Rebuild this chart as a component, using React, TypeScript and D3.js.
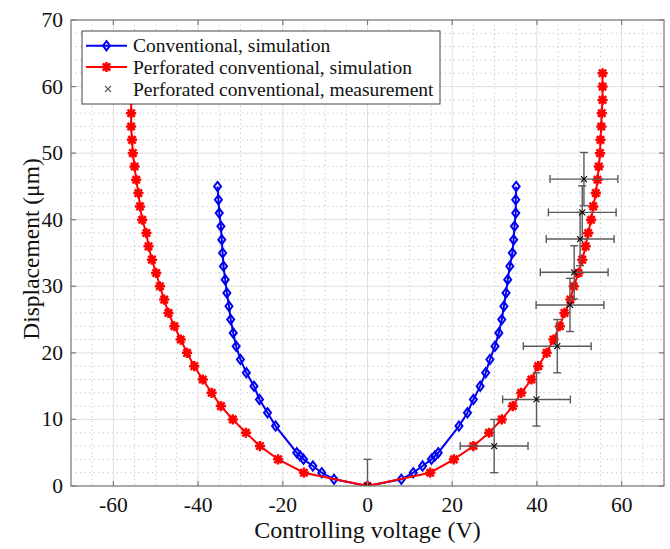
import React from "react";
import * as d3 from "d3";

// ---- data ----
const blueVoltage = [
  -35.4, -35.2, -35.0, -34.6, -34.4, -34.2, -34.0, -33.6, -33.2, -32.7, -32.3, -31.7, -31.0, -30.0, -28.6, -26.8, -25.5, -23.6, -21.7,
  -16.7, -15.9, -15.1, -12.9, -10.8, -7.9,
  0,
  8.0, 10.8, 13.0, 15.1, 15.9, 16.7,
  21.6, 23.6, 25.0, 26.6, 27.9, 28.9, 30.1, 31.0, 31.7, 32.2, 32.7, 33.1, 33.6, 34.2, 34.5, 34.7, 35.0, 35.0, 35.1,
];
const blueDisp = [
  45, 43, 41, 39, 37, 35, 33, 31, 29, 27, 25, 23, 21, 19, 17, 15, 13, 11, 9,
  5, 4.5, 4, 3, 2, 1,
  0,
  1, 2, 3, 4, 4.5, 5,
  9, 11, 13, 15, 17, 19, 21, 23, 25, 27, 29, 31, 33, 35, 37, 39, 41, 43, 45,
];

const redVoltage = [
  -55.8, -55.8, -55.8, -55.8, -55.8, -55.6, -55.4, -55.0, -54.6, -54.1, -53.7, -53.2, -52.2, -51.7, -50.9, -49.9,
  -49.0, -48.0, -47.0, -45.6, -44.1, -42.6, -40.9, -38.9, -36.8, -34.6, -31.8, -28.7, -25.4, -21.1, -15.0,
  0,
  14.8, 20.4, 25.0, 28.7, 31.7, 34.3, 36.3, 38.7, 40.3, 42.3, 43.9, 45.4, 46.5, 47.9, 48.7, 49.8,
  50.7, 51.5, 52.1, 52.8, 53.3, 53.9, 54.3, 54.6, 54.9, 55.0, 55.2, 55.3, 55.5, 55.5, 55.5,
];
const redDisp = [
  62, 60, 58, 56, 54, 52, 50, 48, 46, 44, 42, 40, 38, 36, 34, 32, 30, 28, 26, 24, 22, 20, 18, 16, 14, 12, 10, 8, 6, 4, 2,
  0,
  2, 4, 6, 8, 10, 12, 14, 16, 18, 20, 22, 24, 26, 28, 30, 32, 34, 36, 38, 40, 42, 44, 46, 48, 50, 52, 54, 56, 58, 60, 62,
];

const measVoltage = [0, 29.9, 39.9, 44.8, 47.8, 48.8, 50.2, 50.7, 51.1];
const measDisp = [0, 6.0, 13.0, 21.0, 27.2, 32.1, 37.1, 41.1, 46.1];
const measVoltErr = [0, 8, 8, 8, 8, 8, 8, 8, 8];
const measDispErr = [4, 4, 4, 4, 4, 4, 4, 4, 4];

const xTicks = [-60, -40, -20, 0, 20, 40, 60];
const yTicks = [0, 10, 20, 30, 40, 50, 60, 70];

const legendLabels = [
  "Conventional, simulation",
  "Perforated conventional, simulation",
  "Perforated conventional, measurement",
];

// ---- layout ----
const W = 670;
const H = 549;
const L = 71, R = 664, T = 20, B = 486;
const FONT = "'Liberation Serif', 'Times New Roman', serif";
const BLUE = "#0000f0";
const RED = "#ff0000";
const ERR = "#5a5a5a";
const AXIS = "#7a7a7a";

function Diamond({ cx, cy }: { cx: number; cy: number }) {
  const w = 3.5, h = 4.6;
  return (
    <path
      d={`M${cx},${cy - h}L${cx + w},${cy}L${cx},${cy + h}L${cx - w},${cy}Z`}
      fill="none"
      stroke={BLUE}
      strokeWidth={2}
    />
  );
}

function Star({ cx, cy }: { cx: number; cy: number }) {
  const r = 5.1;
  const d = r * 0.72;
  return (
    <path
      d={`M${cx},${cy - r}L${cx},${cy + r}M${cx - r},${cy}L${cx + r},${cy}M${cx - d},${cy - d}L${cx + d},${cy + d}M${cx - d},${cy + d}L${cx + d},${cy - d}`}
      stroke={RED}
      strokeWidth={2.5}
      fill="none"
    />
  );
}

function Cross({ cx, cy, color, s = 3 }: { cx: number; cy: number; color: string; s?: number }) {
  return (
    <path
      d={`M${cx - s},${cy - s}L${cx + s},${cy + s}M${cx - s},${cy + s}L${cx + s},${cy - s}`}
      stroke={color}
      strokeWidth={1.1}
      fill="none"
    />
  );
}

export default function App() {
  const x = d3.scaleLinear().domain([-70, 70]).range([L, R]);
  const y = d3.scaleLinear().domain([0, 70]).range([B, T]);

  const xMinor = d3.range(-70, 70.01, 5).filter((v) => v % 20 !== 0);
  const yMinor = d3.range(0, 70.01, 2).filter((v) => v % 10 !== 0);

  const line = d3
    .line<[number, number]>()
    .x((d) => x(d[0]))
    .y((d) => y(d[1]));

  const blue: [number, number][] = blueVoltage.map((v, i) => [v, blueDisp[i]]);
  const red: [number, number][] = redVoltage.map((v, i) => [v, redDisp[i]]);

  const cap = 4;
  const tick = 5;

  return (
    <svg
      width={W}
      height={H}
      style={{ position: "absolute", left: 0, top: 0, background: "#fff" }}
      fontFamily={FONT}
    >
      <defs>
        <clipPath id="plot">
          <rect x={L} y={T} width={R - L} height={B - T} />
        </clipPath>
      </defs>
      <rect x={0} y={0} width={W} height={H} fill="#fff" />

      {/* minor grid */}
      <g stroke="#cdcdcd" strokeWidth={1} strokeDasharray="1.5,3">
        {xMinor.map((v) => (
          <line key={"xm" + v} x1={x(v)} x2={x(v)} y1={T} y2={B} />
        ))}
        {yMinor.map((v) => (
          <line key={"ym" + v} x1={L} x2={R} y1={y(v)} y2={y(v)} />
        ))}
      </g>
      {/* major grid */}
      <g stroke="#e0e0e0" strokeWidth={1}>
        {xTicks.map((v) => (
          <line key={"xg" + v} x1={x(v)} x2={x(v)} y1={T} y2={B} />
        ))}
        {yTicks.map((v) => (
          <line key={"yg" + v} x1={L} x2={R} y1={y(v)} y2={y(v)} />
        ))}
      </g>

      <g clipPath="url(#plot)">
        {/* blue series */}
        <path d={line(blue) || ""} fill="none" stroke={BLUE} strokeWidth={2} />
        {blue.map((d, i) => (
          <Diamond key={"b" + i} cx={x(d[0])} cy={y(d[1])} />
        ))}
        {/* red series */}
        <path d={line(red) || ""} fill="none" stroke={RED} strokeWidth={2} />
        {red.map((d, i) => (
          <Star key={"r" + i} cx={x(d[0])} cy={y(d[1])} />
        ))}
        {/* measurement with error bars */}
        <g stroke={ERR} strokeWidth={1.4} fill="none">
          {measVoltage.map((v, i) => {
            const cx = x(v);
            const cy = y(measDisp[i]);
            const y0 = y(measDisp[i] - measDispErr[i]);
            const y1 = y(measDisp[i] + measDispErr[i]);
            const ex = measVoltErr[i];
            return (
              <g key={"e" + i}>
                <line x1={cx} x2={cx} y1={y0} y2={y1} />
                <line x1={cx - cap} x2={cx + cap} y1={y0} y2={y0} />
                <line x1={cx - cap} x2={cx + cap} y1={y1} y2={y1} />
                {ex > 0 && (
                  <g>
                    <line x1={x(v - ex)} x2={x(v + ex)} y1={cy} y2={cy} />
                    <line x1={x(v - ex)} x2={x(v - ex)} y1={cy - cap} y2={cy + cap} />
                    <line x1={x(v + ex)} x2={x(v + ex)} y1={cy - cap} y2={cy + cap} />
                  </g>
                )}
              </g>
            );
          })}
        </g>
        {measVoltage.map((v, i) => (
          <Cross key={"m" + i} cx={x(v)} cy={y(measDisp[i])} color="#000" />
        ))}
      </g>

      {/* axes box */}
      <rect x={L} y={T} width={R - L} height={B - T} fill="none" stroke={AXIS} strokeWidth={1.2} />
      <g stroke={AXIS} strokeWidth={1.2}>
        {xTicks.map((v) => (
          <g key={"xt" + v}>
            <line x1={x(v)} x2={x(v)} y1={B} y2={B - tick} />
            <line x1={x(v)} x2={x(v)} y1={T} y2={T + tick} />
          </g>
        ))}
        {yTicks.map((v) => (
          <g key={"yt" + v}>
            <line x1={L} x2={L + tick} y1={y(v)} y2={y(v)} />
            <line x1={R} x2={R - tick} y1={y(v)} y2={y(v)} />
          </g>
        ))}
      </g>
      <g fontSize={21.5} fill="#111">
        {xTicks.map((v) => (
          <text key={"xl" + v} x={x(v)} y={512} textAnchor="middle">
            {String(v)}
          </text>
        ))}
        {yTicks.map((v) => (
          <text key={"yl" + v} x={L - 8} y={y(v) + 7} textAnchor="end">
            {String(v)}
          </text>
        ))}
      </g>
      <text x={(L + R) / 2} y={538} textAnchor="middle" fontSize={24} fill="#111">
        Controlling voltage (V)
      </text>
      <text
        transform={`translate(39,${(T + B) / 2 - 4}) rotate(-90)`}
        textAnchor="middle"
        fontSize={23.5}
        fill="#111"
      >
        Displacement (μm)
      </text>

      {/* legend */}
      <g>
        <rect x={82} y={31} width={358} height={73} fill="#fff" stroke="#444" strokeWidth={1} />
        <line x1={86} x2={127} y1={45.7} y2={45.7} stroke={BLUE} strokeWidth={2} />
        <Diamond cx={106.5} cy={45.7} />
        <line x1={86} x2={127} y1={67} y2={67} stroke={RED} strokeWidth={2} />
        <Star cx={106.5} cy={67} />
        <Cross cx={108} cy={89} color={ERR} />
        <g fontSize={19.5} fill="#111">
          {legendLabels.map((t, i) => (
            <text key={t} x={133} y={[45.7, 67, 89][i] + 6.5}>
              {t}
            </text>
          ))}
        </g>
      </g>
    </svg>
  );
}
